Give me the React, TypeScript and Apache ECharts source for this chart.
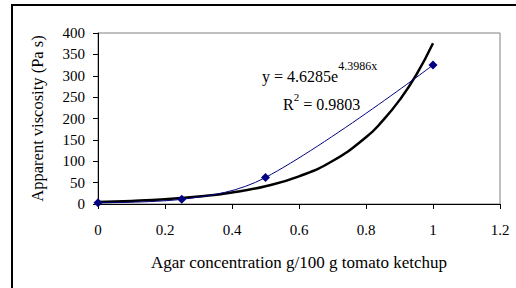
import React, { useEffect, useRef } from "react";
import * as echarts from "echarts";

const measuredX = [0, 0.25, 0.5, 1];
const measuredY = [3, 11, 62, 325];

const trendX = [0, 0.1, 0.2, 0.3, 0.4, 0.5, 0.6, 0.7, 0.8, 0.85, 0.9, 0.95, 1.0];
const trendY = [4.6, 7.2, 11.1, 17.3, 26.8, 41.7, 64.7, 100.5, 156, 195, 243, 302, 376];

const xTicks = [0, 0.2, 0.4, 0.6, 0.8, 1, 1.2];
const yTicks = [0, 50, 100, 150, 200, 250, 300, 350, 400];

const equationMain = "y = 4.6285e";
const equationExp = "4.3986x";
const r2Value = "0.9803";

const xTitle = "Agar concentration g/100 g tomato ketchup";
const yTitle = "Apparent viscosity (Pa s)";

const FONT = "'Liberation Serif', 'Times New Roman', serif";

export default function App() {
  const ref = useRef<HTMLDivElement>(null);
  useEffect(() => {
    if (!ref.current) return;
    const chart = echarts.init(ref.current, null, { renderer: "svg" });
    chart.setOption({
      animation: false,
      backgroundColor: "#ffffff",
      grid: {
        left: 98,
        top: 33,
        right: 16,
        bottom: 84,
        show: true,
        borderColor: "#808080",
        borderWidth: 1,
        backgroundColor: "transparent",
      },
      xAxis: {
        type: "value",
        min: xTicks[0],
        max: xTicks[xTicks.length - 1],
        interval: 0.2,
        axisLine: { show: true, lineStyle: { color: "#000", width: 1 } },
        axisTick: { show: true, length: 5, lineStyle: { color: "#000" } },
        splitLine: { show: false },
        axisLabel: {
          color: "#000",
          fontFamily: FONT,
          fontSize: 15,
          margin: 18,
          formatter: (v: number) => String(Math.round(v * 10) / 10),
        },
        name: xTitle,
        nameLocation: "middle",
        nameGap: 50,
        nameTextStyle: { color: "#000", fontFamily: FONT, fontSize: 17 },
      },
      yAxis: {
        type: "value",
        min: yTicks[0],
        max: yTicks[yTicks.length - 1],
        interval: 50,
        axisLine: { show: true, lineStyle: { color: "#000", width: 1 } },
        axisTick: { show: true, length: 5, lineStyle: { color: "#000" } },
        splitLine: { show: false },
        axisLabel: {
          color: "#000",
          fontFamily: FONT,
          fontSize: 15,
          margin: 13,
        },
        name: yTitle,
        nameLocation: "middle",
        nameGap: 52,
        nameRotate: 90,
        nameTextStyle: { color: "#000", fontFamily: FONT, fontSize: 16.5 },
      },
      series: [
        {
          type: "line",
          name: "trend",
          data: trendX.map((x, i) => [x, trendY[i]]),
          smooth: true,
          showSymbol: false,
          symbol: "none",
          lineStyle: { color: "#000", width: 2.5 },
          z: 3,
        },
        {
          type: "line",
          name: "measured",
          data: measuredX.map((x, i) => [x, measuredY[i]]),
          smooth: 0.35,
          symbol: "diamond",
          symbolSize: 9,
          itemStyle: { color: "#000080" },
          lineStyle: { color: "#000080", width: 1 },
          z: 4,
        },
      ],
      graphic: [
        {
          type: "rect",
          shape: { x: 12, y: 5, width: 520, height: 300 },
          style: { fill: "none", stroke: "#000", lineWidth: 2 },
          silent: true,
        },
        {
          type: "text",
          x: 262,
          y: 60,
          style: {
            text: `{m|${equationMain}}{s|${equationExp}}`,
            rich: {
              m: { fontFamily: FONT, fontSize: 16, fill: "#000", verticalAlign: "bottom" },
              s: { fontFamily: FONT, fontSize: 12, fill: "#000", verticalAlign: "top", padding: [0, 0, 12, 0] },
            },
          },
        },
        {
          type: "text",
          x: 283,
          y: 91,
          style: {
            text: `{m|R}{s|2}{m| = ${r2Value}}`,
            rich: {
              m: { fontFamily: FONT, fontSize: 16, fill: "#000", verticalAlign: "bottom" },
              s: { fontFamily: FONT, fontSize: 11, fill: "#000", verticalAlign: "top", padding: [0, 0, 10, 0] },
            },
          },
        },
      ],
    });
    return () => chart.dispose();
  }, []);
  return (
    <div
      ref={ref}
      style={{ position: "fixed", left: 0, top: 0, width: 516, height: 288 }}
    />
  );
}
